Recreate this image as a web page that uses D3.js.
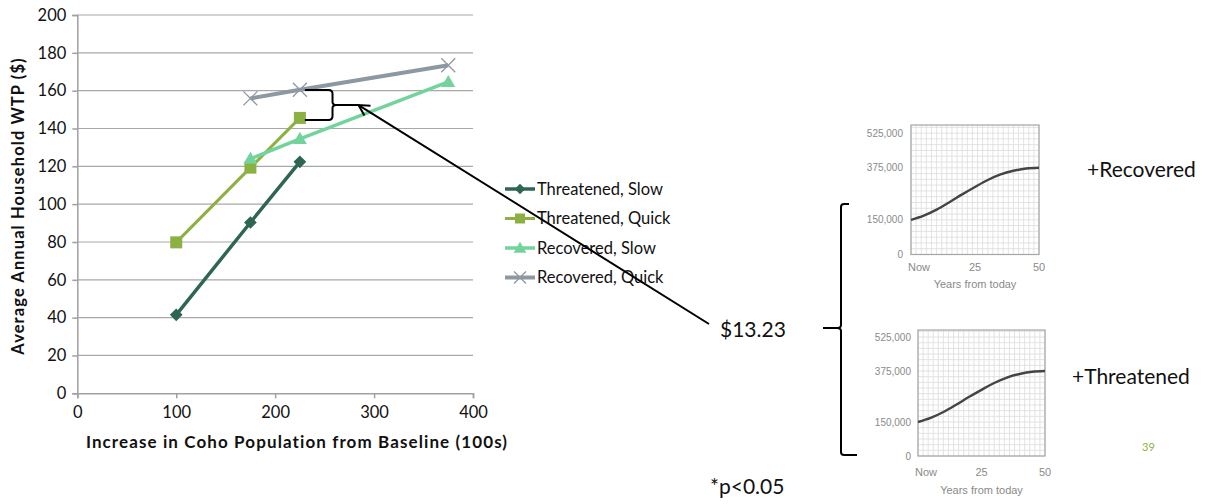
<!DOCTYPE html>
<html>
<head>
<meta charset="UTF-8">
<script src="https://d3js.org/d3.v7.min.js"></script>
<style>
  body { margin: 0; background: #fff; }
  svg { display: block; }
</style>
</head>
<body>
<svg id="chart" width="1215" height="504"></svg>
<script>
// main chart data
var seriesNames = ["Threatened, Slow", "Threatened, Quick", "Recovered, Slow", "Recovered, Quick"];
var seriesColors = ["#2f6653", "#8db043", "#72d49c", "#8e98a3"];
var seriesMarkers = ["diamond", "square", "triangle", "cross"];
var threatenedSlow = [[100, 41.5], [175, 90.3], [225, 122.4]];
var threatenedQuick = [[100, 79.8], [175, 119.3], [225, 145.6]];
var recoveredSlow = [[175, 124], [225, 134.5], [375, 164.6]];
var recoveredQuick = [[175, 155.9], [225, 160.5], [375, 173.4]];
var xTicks = [0, 100, 200, 300, 400];
var yTicks = [0, 20, 40, 60, 80, 100, 120, 140, 160, 180, 200];

// small population panels (years from today, coho count)
var years = [0, 5, 10, 15, 20, 25, 30, 35, 40, 45, 50];
var population = [150000, 168000, 194000, 226000, 260000, 292000, 322000, 346000, 362000, 372000, 375000];
var popTicks = [0, 150000, 375000, 525000];
var yearTicks = [0, 25, 50];

var svg = d3.select("#chart");
var font = "Lato, 'Open Sans', sans-serif";

var x = d3.scaleLinear().domain([0, 400]).range([77.3, 473]);
var y = d3.scaleLinear().domain([0, 200]).range([393.3, 15]);

var g = svg.append("g");

// gridlines
g.append("g")
  .selectAll("line")
  .data(yTicks.slice(1))
  .enter().append("line")
    .attr("x1", x(0)).attr("x2", x(400))
    .attr("y1", function(d){ return y(d); })
    .attr("y2", function(d){ return y(d); })
    .attr("stroke", "#a8a8a8")
    .attr("stroke-width", 1.2);

var yAxis = g.append("g")
  .attr("transform", "translate(" + x(0) + ",0)")
  .call(d3.axisLeft(y).tickValues(yTicks).tickSize(5).tickPadding(6));
var xAxis = g.append("g")
  .attr("transform", "translate(0," + y(0) + ")")
  .call(d3.axisBottom(x).tickValues(xTicks).tickSize(5).tickPadding(8));

[xAxis, yAxis].forEach(function(a){
  a.select(".domain").attr("stroke", "#a0a0a0").attr("stroke-width", 1.5);
  a.selectAll(".tick line").attr("stroke", "#a0a0a0").attr("stroke-width", 1.5);
  a.selectAll(".tick text").attr("font-family", font).attr("font-size", 16.5).attr("fill", "#111");
});

// axis titles
g.append("text")
  .attr("transform", "translate(24," + 206 + ") rotate(-90)")
  .attr("text-anchor", "middle")
  .attr("font-family", font).attr("font-weight", "bold").attr("font-size", 16.5)
  .attr("letter-spacing", 1.1)
  .attr("fill", "#111")
  .text("Average Annual Household WTP ($)");
g.append("text")
  .attr("x", 297).attr("y", 448)
  .attr("text-anchor", "middle")
  .attr("font-family", font).attr("font-weight", "bold").attr("font-size", 17)
  .attr("letter-spacing", 1.1)
  .attr("fill", "#111")
  .text("Increase in Coho Population from Baseline (100s)");

function marker(sel, type, color, size) {
  if (type === "diamond") {
    var s = size * 0.75;
    sel.append("rect").attr("x", -s / 2).attr("y", -s / 2)
      .attr("width", s).attr("height", s).attr("fill", color)
      .attr("transform", "rotate(45)");
  } else if (type === "square") {
    sel.append("rect").attr("x", -size / 2).attr("y", -size / 2)
      .attr("width", size).attr("height", size).attr("fill", color);
  } else if (type === "triangle") {
    sel.append("path").attr("d", d3.symbol().type(d3.symbolTriangle).size(size * 7)())
      .attr("fill", color).attr("transform", "translate(0,1)");
  } else {
    var h = size / 2;
    sel.append("path").attr("d", "M" + (-h) + "," + (-h) + "L" + h + "," + h + "M" + (-h) + "," + h + "L" + h + "," + (-h))
      .attr("stroke", color).attr("stroke-width", 1.3).attr("fill", "none");
  }
}

var allSeries = [threatenedSlow, threatenedQuick, recoveredSlow, recoveredQuick];
var widths = [3.5, 3, 3.5, 4];
var line = d3.line().x(function(d){ return x(d[0]); }).y(function(d){ return y(d[1]); });

allSeries.forEach(function(s, i){
  g.append("path").datum(s)
    .attr("d", line)
    .attr("fill", "none")
    .attr("stroke", seriesColors[i])
    .attr("stroke-width", widths[i]);
  s.forEach(function(p){
    var m = g.append("g").attr("transform", "translate(" + x(p[0]) + "," + y(p[1]) + ")");
    marker(m, seriesMarkers[i], seriesColors[i], i === 3 ? 14 : 12);
  });
});

// legend
var legend = g.append("g").attr("transform", "translate(505,189)");
seriesNames.forEach(function(name, i){
  var row = legend.append("g").attr("transform", "translate(0," + (i * 29.5) + ")");
  row.append("line").attr("x1", 0).attr("x2", 30).attr("y1", 0).attr("y2", 0)
    .attr("stroke", seriesColors[i]).attr("stroke-width", widths[i]);
  var m = row.append("g").attr("transform", "translate(15,0)");
  marker(m, seriesMarkers[i], seriesColors[i], i === 3 ? 12 : 10);
  row.append("text").attr("x", 32).attr("y", 0).attr("dy", "0.35em")
    .attr("font-family", font).attr("font-size", 16.5).attr("fill", "#111")
    .text(name);
});

// bracket between recovered quick and threatened quick at 225
var bx0 = x(225) + 5, bx1 = x(258), bTop = y(160.3), bBot = y(144.5), bMid = (bTop + bBot) / 2;
g.append("path")
  .attr("d", "M" + bx0 + "," + bTop + " L" + (bx1 - 4) + "," + bTop + " Q" + bx1 + "," + bTop + " " + bx1 + "," + (bTop + 4) +
    " L" + bx1 + "," + (bMid - 3) + " Q" + bx1 + "," + bMid + " " + (bx1 + 4) + "," + bMid +
    " L" + (bx1 + 26) + "," + bMid +
    " M" + (bx1 + 4) + "," + bMid + " Q" + bx1 + "," + bMid + " " + bx1 + "," + (bMid + 3) +
    " L" + bx1 + "," + (bBot - 4) + " Q" + bx1 + "," + bBot + " " + (bx1 - 4) + "," + bBot + " L" + bx0 + "," + bBot)
  .attr("fill", "none").attr("stroke", "#000").attr("stroke-width", 2);

// arrow from $13.23 to the bracket
var ax = bx1 + 26, ay = bMid, sx = 709, sy = 324;
var ang = Math.atan2(sy - ay, sx - ax);
g.append("line").attr("x1", sx).attr("y1", sy).attr("x2", ax).attr("y2", ay)
  .attr("stroke", "#000").attr("stroke-width", 2);
g.append("path")
  .attr("d", "M" + (ax + 12 * Math.cos(ang - 0.5)) + "," + (ay + 12 * Math.sin(ang - 0.5)) +
    " L" + ax + "," + ay + " L" + (ax + 12 * Math.cos(ang + 0.5)) + "," + (ay + 12 * Math.sin(ang + 0.5)))
  .attr("fill", "none").attr("stroke", "#000").attr("stroke-width", 2);

// annotations
function bigText(tx, ty, str, size, color) {
  svg.append("text").attr("x", tx).attr("y", ty)
    .attr("font-family", font).attr("font-size", size).attr("fill", color || "#111")
    .text(str);
}
bigText(720, 337, "$13.23", 21);
bigText(710, 494, "*p<0.05", 21);
bigText(1087, 177, "+Recovered", 21);
bigText(1072, 384, "+Threatened", 21);
bigText(1142, 451, "39", 11, "#8db33f");

// right brace
var rx = 841, rTop = 204, rBot = 455, rMid = 328;
svg.append("path")
  .attr("d", "M" + (rx + 8) + "," + rTop + " L" + (rx + 3) + "," + rTop + " Q" + rx + "," + rTop + " " + rx + "," + (rTop + 3) +
    " L" + rx + "," + (rMid - 3) + " Q" + rx + "," + rMid + " " + (rx - 4) + "," + rMid + " L" + (rx - 18) + "," + rMid +
    " M" + (rx - 4) + "," + rMid + " Q" + rx + "," + rMid + " " + rx + "," + (rMid + 3) +
    " L" + rx + "," + (rBot - 3) + " Q" + rx + "," + rBot + " " + (rx + 3) + "," + rBot + " L" + (rx + 16) + "," + rBot)
  .attr("fill", "none").attr("stroke", "#000").attr("stroke-width", 2);

// small population panels
function panel(left, right, top, bottom, yMax, yLabelX, yearLabelY, titleY) {
  var px = d3.scaleLinear().domain([0, 50]).range([left, right]);
  var py = d3.scaleLinear().domain([0, yMax]).range([bottom, top]);
  var p = svg.append("g");
  var vx = d3.range(0, 51, 2);
  var vy = d3.range(0, yMax, 25000);
  p.selectAll(".vx").data(vx).enter().append("line")
    .attr("x1", function(d){ return px(d); }).attr("x2", function(d){ return px(d); })
    .attr("y1", top).attr("y2", bottom)
    .attr("stroke", "#dcdcdc").attr("stroke-width", 0.8);
  p.selectAll(".vy").data(vy).enter().append("line")
    .attr("x1", left).attr("x2", right)
    .attr("y1", function(d){ return py(d); }).attr("y2", function(d){ return py(d); })
    .attr("stroke", "#dcdcdc").attr("stroke-width", 0.8);
  p.append("rect").attr("x", left).attr("y", top)
    .attr("width", right - left).attr("height", bottom - top)
    .attr("fill", "none").attr("stroke", "#a5a5a5").attr("stroke-width", 1.2);
  p.append("path").datum(years.map(function(yr, i){ return [yr, population[i]]; }))
    .attr("d", d3.line().curve(d3.curveMonotoneX)
      .x(function(d){ return px(d[0]); }).y(function(d){ return py(d[1]); }))
    .attr("fill", "none").attr("stroke", "#444").attr("stroke-width", 2.4);
  p.selectAll(".yl").data(popTicks).enter().append("text")
    .attr("x", yLabelX).attr("y", function(d){ return py(d); }).attr("dy", "0.35em")
    .attr("text-anchor", "end")
    .attr("font-family", "'Liberation Sans', Arial, sans-serif").attr("font-size", 10)
    .attr("fill", "#8a8a8a")
    .text(function(d){ return d3.format(",")(d); });
  p.selectAll(".xl").data(yearTicks).enter().append("text")
    .attr("x", function(d){ return px(d) + (d === 0 ? 8 : 0); }).attr("y", yearLabelY)
    .attr("text-anchor", "middle")
    .attr("font-family", "'Liberation Sans', Arial, sans-serif").attr("font-size", 11)
    .attr("fill", "#8a8a8a")
    .text(function(d){ return d === 0 ? "Now" : d; });
  p.append("text").attr("x", (left + right) / 2).attr("y", titleY)
    .attr("text-anchor", "middle")
    .attr("font-family", "'Liberation Sans', Arial, sans-serif").attr("font-size", 11)
    .attr("fill", "#8a8a8a")
    .text("Years from today");
}
panel(911, 1039, 125, 254.5, 560000, 903, 271, 288);
panel(918, 1045, 330, 456, 556000, 911, 476, 494);
</script>
</body>
</html>
